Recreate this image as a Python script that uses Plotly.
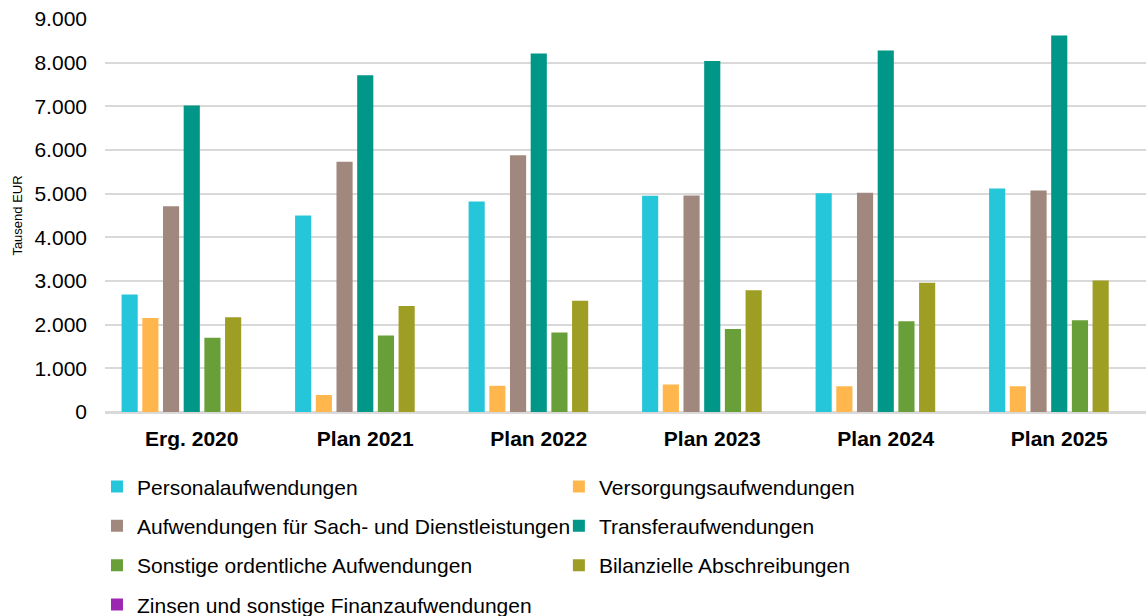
import plotly.graph_objects as go

categories = ["Erg. 2020", "Plan 2021", "Plan 2022", "Plan 2023", "Plan 2024", "Plan 2025"]

personal = [2690, 4500, 4820, 4950, 5010, 5120]
versorgung = [2150, 390, 600, 630, 590, 590]
sach = [4710, 5730, 5880, 4960, 5020, 5070]
transfer = [7020, 7710, 8210, 8040, 8280, 8620]
sonstige = [1700, 1750, 1820, 1900, 2080, 2100]
bilanz = [2170, 2430, 2550, 2790, 2960, 3010]
zinsen = [0, 0, 0, 0, 0, 0]

series_names = [
    "Personalaufwendungen",
    "Versorgungsaufwendungen",
    "Aufwendungen für Sach- und Dienstleistungen",
    "Transferaufwendungen",
    "Sonstige ordentliche Aufwendungen",
    "Bilanzielle Abschreibungen",
    "Zinsen und sonstige Finanzaufwendungen",
]
series_values = [personal, versorgung, sach, transfer, sonstige, bilanz, zinsen]
colors = ["#26C6DA", "#FFB74D", "#A1887F", "#009688", "#689F38", "#9E9D24", "#9C27B0"]
legend_assign = ["legend", "legend2", "legend", "legend2", "legend", "legend2", "legend"]

FONT = "Liberation Sans, Arial, sans-serif"

fig = go.Figure()
for i, (name, vals, col, lg) in enumerate(zip(series_names, series_values, colors, legend_assign)):
    fig.add_trace(go.Bar(
        x=categories, y=vals, name=name,
        marker=dict(color=col, line=dict(width=0)),
        legend=lg, legendgroup=f"g{i}",
    ))

legend_common = dict(
    orientation="v",
    yanchor="top",
    xanchor="left",
    font=dict(family=FONT, size=21, color="#000000"),
    bgcolor="rgba(0,0,0,0)",
    tracegroupgap=9,
    itemclick=False,
    itemdoubleclick=False,
)

fig.update_layout(
    width=1146, height=616,
    margin=dict(l=105, r=0, t=19, b=204, autoexpand=False),
    paper_bgcolor="white",
    plot_bgcolor="white",
    separators=",.",
    barmode="group",
    bargap=0.165,
    bargroupgap=0.22,
    font=dict(family=FONT, color="#000000"),
    legend=dict(x=-0.0077, y=-0.1384, **legend_common),
    legend2=dict(x=0.436, y=-0.1384, **legend_common),
    showlegend=True,
)

fig.update_yaxes(
    range=[0, 9000],
    dtick=1000,
    tickformat=",d",
    showgrid=True,
    gridcolor="#D9D9D9",
    gridwidth=1.5,
    zeroline=True,
    zerolinecolor="#D9D9D9",
    zerolinewidth=2.5,
    showline=False,
    ticks="",
    ticklabelstandoff=17,
    tickfont=dict(family=FONT, size=21, color="#000000"),
    title=dict(text="Tausend EUR", font=dict(family=FONT, size=13, color="#000000"), standoff=8),
)

fig.update_xaxes(
    showgrid=False,
    showline=False,
    ticks="",
    ticklabelstandoff=12,
    tickfont=dict(family=FONT, size=21, color="#000000", weight="bold"),
)

fig.write_html(
    "out.html",
    config={"displayModeBar": False},
    post_script="document.body.style.margin='0';",
)
